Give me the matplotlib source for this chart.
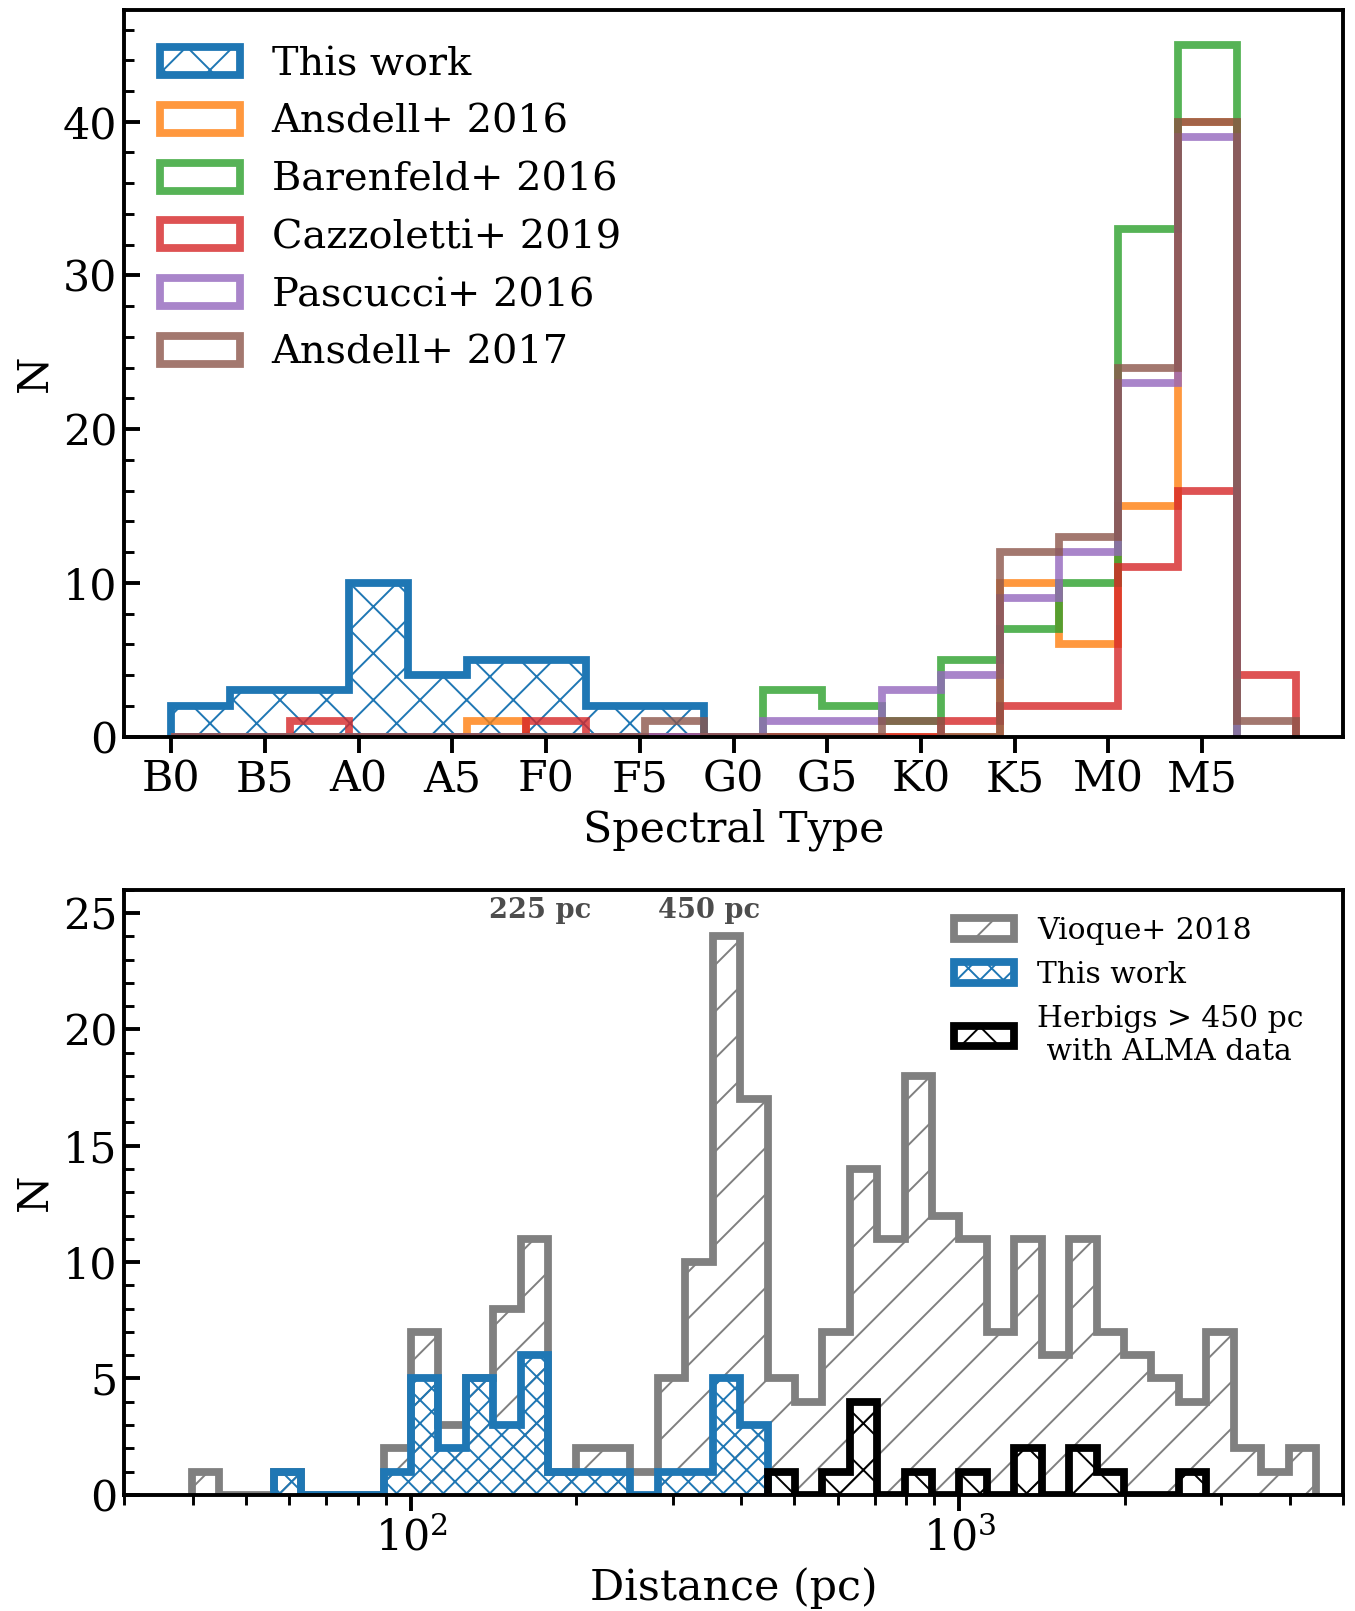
import numpy as np
import matplotlib
matplotlib.use('Agg')
import matplotlib.pyplot as plt
from matplotlib.ticker import AutoMinorLocator, MultipleLocator

plt.rcParams['font.family'] = ['DejaVu Serif']
plt.rcParams['mathtext.fontset'] = 'dejavuserif'
plt.rcParams['hatch.linewidth'] = 1.0

# spectral type histogram (top panel)
spt_edges = np.linspace(0, 60, 20)
spt_ticks = np.arange(0, 60, 5)
spt_labels = ['B0', 'B5', 'A0', 'A5', 'F0', 'F5', 'G0', 'G5', 'K0', 'K5', 'M0', 'M5']

# counts per bin, each series only over the bins it covers (from B0)
this_work_spt = [2, 3, 3, 10, 4, 5, 5, 2, 2]
ansdell16 = [0, 0, 0, 0, 0, 1, 0, 0, 0, 0, 0, 0, 0, 0, 10, 6, 15, 40]
barenfeld16 = [0, 0, 0, 0, 0, 0, 0, 0, 0, 0, 3, 2, 1, 5, 7, 10, 33, 45]
cazzoletti19 = [0, 0, 1, 0, 0, 0, 1, 0, 0, 0, 0, 0, 0, 1, 2, 2, 11, 16, 4]
pascucci16 = [0, 0, 0, 0, 0, 0, 0, 0, 0, 0, 1, 1, 3, 4, 9, 12, 23, 39]
ansdell17 = [0, 0, 0, 0, 0, 0, 0, 0, 1, 0, 0, 0, 1, 0, 12, 13, 24, 40, 1]

surveys = [('Ansdell+ 2016', ansdell16, 'C1'),
           ('Barenfeld+ 2016', barenfeld16, 'C2'),
           ('Cazzoletti+ 2019', cazzoletti19, 'C3'),
           ('Pascucci+ 2016', pascucci16, 'C4'),
           ('Ansdell+ 2017', ansdell17, 'C5')]

# distance histogram (bottom panel), log bins
dist_edges = np.logspace(1.6, 3.65, 42)
vioque18 = [1, 0, 0, 1, 0, 0, 0, 2, 7, 3, 5, 8, 11, 1, 2, 2, 1, 5, 10, 24, 17,
            5, 4, 7, 14, 11, 18, 12, 11, 7, 11, 6, 11, 7, 6, 5, 4, 7, 2, 1, 2]
this_work_dist = [1, 0, 0, 0, 1, 5, 2, 5, 3, 6, 1, 1, 1, 0, 1, 1, 5, 3]
this_work_bins = dist_edges[3:22]
herbigs_alma = [1, 0, 1, 4, 0, 1, 0, 1, 0, 2, 0, 2, 1, 0, 0, 1]
herbigs_bins = dist_edges[21:38]


def step_hist(ax, edges, counts, log=False, **kw):
    edges = edges[:len(counts) + 1]
    if log:
        mids = np.sqrt(edges[1:] * edges[:-1])
    else:
        mids = 0.5 * (edges[1:] + edges[:-1])
    return ax.hist(mids, bins=edges, weights=counts, histtype='step', **kw)


fig = plt.figure(figsize=(1355 / 140, 1611 / 140), dpi=140)
ax1 = fig.add_axes([0.0917, 0.5428, 0.8993, 0.4508])
ax2 = fig.add_axes([0.0917, 0.0721, 0.8993, 0.3756])

# --- top panel
step_hist(ax1, spt_edges, this_work_spt, color='C0', lw=4, hatch='x', label='This work')
for name, counts, col in surveys:
    step_hist(ax1, spt_edges, counts, color=col, lw=4, alpha=0.8, label=name)

ax1.set_xlim(-2.5, 62.5)
ax1.set_ylim(0, 47.25)
ax1.set_xticks(spt_ticks)
ax1.set_xticklabels(spt_labels)
ax1.yaxis.set_major_locator(MultipleLocator(10))
ax1.yaxis.set_minor_locator(AutoMinorLocator(5))
ax1.set_xlabel('Spectral Type', fontsize=22)
ax1.set_ylabel('N', fontsize=22)
ax1.legend(loc='upper left', fontsize=20.5, frameon=False, labelspacing=0.52)

# --- bottom panel
step_hist(ax2, dist_edges, vioque18, log=True, color='gray', lw=4, hatch='/',
          label='Vioque+ 2018')
step_hist(ax2, this_work_bins, this_work_dist, log=True, color='C0', lw=4,
          hatch='xx', label='This work')
step_hist(ax2, herbigs_bins, herbigs_alma, log=True, color='k', lw=4, hatch='x',
          label='Herbigs > 450 pc\n with ALMA data')
ax2.set_xscale('log')
ax2.set_xlim(30, 5000)
ax2.set_ylim(0, 26)
ax2.yaxis.set_major_locator(MultipleLocator(5))
ax2.yaxis.set_minor_locator(AutoMinorLocator(5))
ax2.text(172, 25.1, '225 pc', ha='center', va='center', fontsize=14,
         fontweight='bold', color='0.3')
ax2.text(350, 25.1, '450 pc', ha='center', va='center', fontsize=14,
         fontweight='bold', color='0.3')
ax2.set_xlabel('Distance (pc)', fontsize=22)
ax2.set_ylabel('N', fontsize=22)
ax2.legend(loc='upper right', bbox_to_anchor=(0.99, 1.0), fontsize=15.3,
           frameon=False, labelspacing=0.55)

for ax in (ax1, ax2):
    for sp in ax.spines.values():
        sp.set_linewidth(2)
    ax.tick_params(axis='y', which='both', direction='in')
    ax.tick_params(axis='x', which='both', direction='out')
    ax.tick_params(which='major', length=8, width=2, labelsize=22)
    ax.tick_params(which='minor', length=5, width=1.5)

fig.savefig('out.png', dpi=140)
